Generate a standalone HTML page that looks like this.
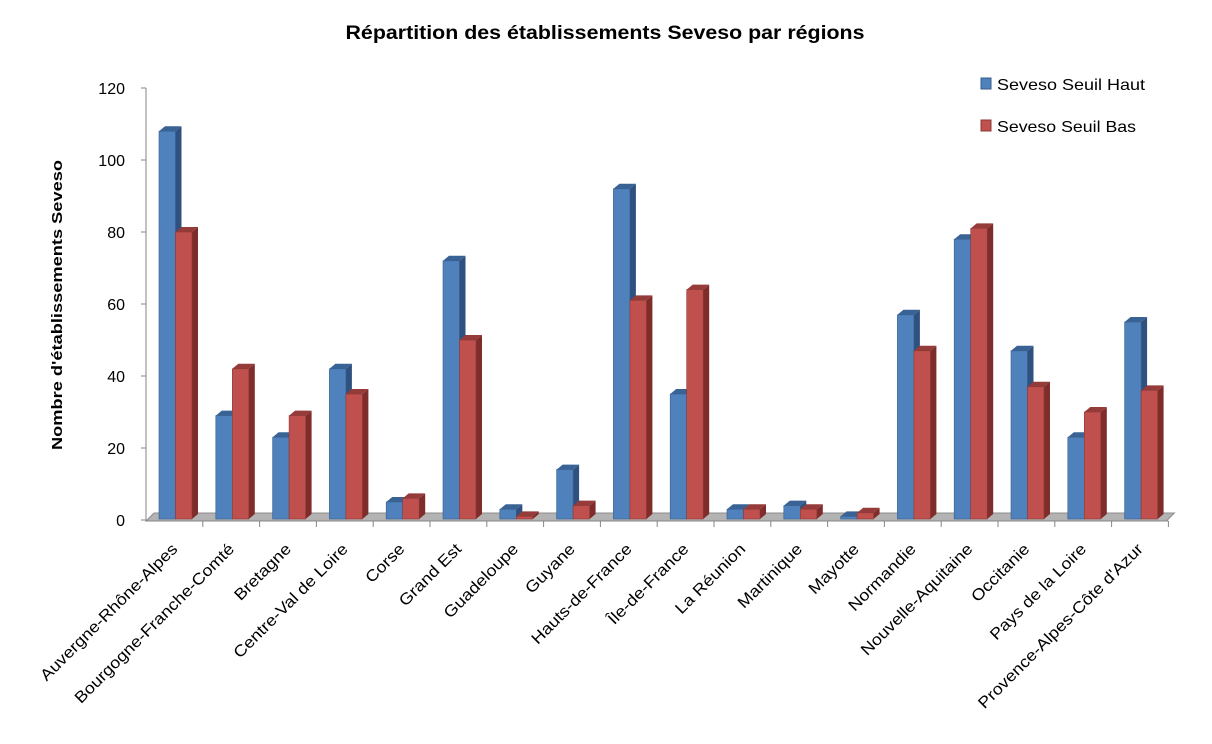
<!DOCTYPE html>
<html><head><meta charset="utf-8"><style>
body{margin:0;background:#fff;width:1212px;height:739px;overflow:hidden}
text{font-family:"Liberation Sans",Arial,sans-serif}
</style></head><body>
<svg id="c" width="1212" height="739">
<text x="605" y="39" text-anchor="middle" font-size="19" font-weight="bold" textLength="519" lengthAdjust="spacingAndGlyphs">Répartition des établissements Seveso par régions</text>
<text transform="translate(62,305) rotate(-90)" text-anchor="middle" font-size="15" font-weight="bold" textLength="290" lengthAdjust="spacingAndGlyphs">Nombre d'établissements Seveso</text>
<g id="plot"></g>
<g>
<rect x="981" y="78" width="10" height="11" fill="#4f81bd" stroke="#385d8a"/>
<text x="997" y="90" font-size="16" textLength="148" lengthAdjust="spacingAndGlyphs">Seveso Seuil Haut</text>
<rect x="981" y="120" width="10" height="11" fill="#c0504d" stroke="#8c3836"/>
<text x="997" y="132" font-size="16" textLength="139" lengthAdjust="spacingAndGlyphs">Seveso Seuil Bas</text>
</g>
</svg>
<script>
const categories=["Auvergne-Rhône-Alpes","Bourgogne-Franche-Comté","Bretagne","Centre-Val de Loire","Corse","Grand Est","Guadeloupe","Guyane","Hauts-de-France","Île-de-France","La Réunion","Martinique","Mayotte","Normandie","Nouvelle-Aquitaine","Occitanie","Pays de la Loire","Provence-Alpes-Côte d'Azur"];
const hautValues=[108,29,23,42,5,72,3,14,92,35,3,4,1,57,78,47,23,55];
const basValues=[80,42,29,35,6,50,1,4,61,64,3,3,2,47,81,37,30,36];
const yTicks=[0,20,40,60,80,100,120];
const NS="http://www.w3.org/2000/svg";
const g=document.getElementById('plot');
const x0=146,step=56.8,y0=520,ppu=3.6,dx=6,dy=5,bw=16.5;
const yS=v=>y0-v*ppu;
const xS=i=>x0+i*step;
function mk(t,a){const e=document.createElementNS(NS,t);for(const k in a)e.setAttribute(k,a[k]);g.appendChild(e);return e;}
let fl=mk('polygon',{points:`${x0},${y0+1} ${x0+dx+2},${y0-7} ${x0+categories.length*step+6},${y0-7} ${x0+categories.length*step-2},${y0+1}`,fill:'#b3b3b3',stroke:'#8c8c8c'});


let ax=mk('line',{x1:x0,y1:yS(120),x2:x0,y2:y0+1,stroke:'#868686'});


yTicks.forEach(v=>{
 const t=mk('line',{x1:x0-5,y1:yS(v),x2:x0,y2:yS(v),stroke:'#868686'});
 
 
 const l=mk('text',{x:x0-21,y:yS(v)+6,'text-anchor':'end','font-size':16});
 l.textContent=v;
 
 
});
let xa=mk('line',{x1:x0,y1:y0+1,x2:xS(categories.length),y2:y0+1,stroke:'#868686'});


function bar(x,v,front,side,top,stroke,name){
 const yt=yS(v),yb=y0-1;
 const s=mk('polygon',{points:`${x+bw},${yt} ${x+bw+dx},${yt-dy} ${x+bw+dx},${yb-dy} ${x+bw},${yb}`,fill:side});
 
 
 const t=mk('polygon',{points:`${x},${yt} ${x+dx},${yt-dy} ${x+bw+dx},${yt-dy} ${x+bw},${yt}`,fill:top});
 
 
 const f=mk('rect',{x:x,y:yt,width:bw,height:Math.max(yb-yt,0),fill:front,stroke:stroke,'stroke-width':0.6});
 
 
}
categories.forEach((c,i)=>{
 const bx=xS(i)+13;
 bar(bx,hautValues[i],'#4f81bd','#2f5180','#3a6395','#385d8a','bar-haut');
 bar(bx+bw,basValues[i],'#c0504d','#7f2d2b','#953b39','#8c3836','bar-bas');
 const t=mk('line',{x1:xS(i+1),y1:y0+1,x2:xS(i+1),y2:y0+7,stroke:'#868686'});
 
 
 const cx=xS(i)+step/2+4, cy=y0+30;
 const l=mk('text',{x:cx,y:cy,'text-anchor':'end','font-size':16,transform:`rotate(-45 ${cx} ${cy})`});
 l.textContent=c;
 
 
 const w=l.getComputedTextLength();
 if(w>0){l.setAttribute('textLength',(w*1.12).toFixed(1));l.setAttribute('lengthAdjust','spacingAndGlyphs');}
});
</script>
</body></html>
